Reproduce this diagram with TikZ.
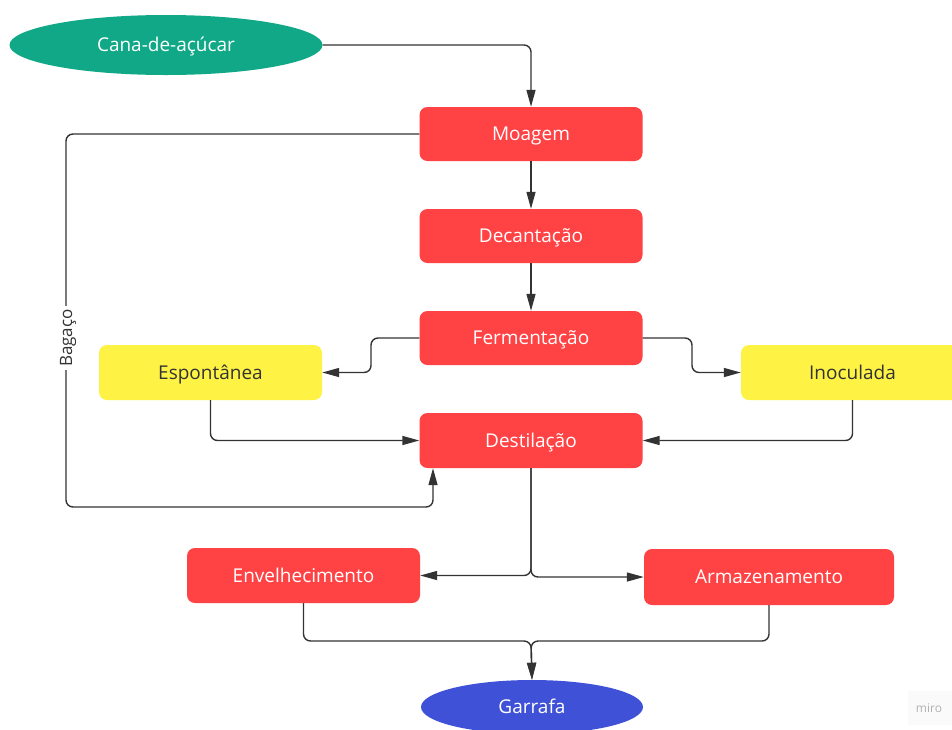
\documentclass[tikz,border=0pt]{standalone}
\usepackage{fontspec}
\setmainfont{Open Sans}
\usetikzlibrary{shapes.geometric,arrows.meta}
\definecolor{cteal}{RGB}{16,168,135}
\definecolor{cred}{RGB}{255,66,68}
\definecolor{cyel}{RGB}{254,242,68}
\definecolor{cblue}{RGB}{63,82,215}
\definecolor{cline}{RGB}{51,51,51}
\definecolor{ctext}{RGB}{51,51,51}
\tikzset{
  lbl/.style={font=\fontsize{19}{22}\selectfont, text height=13.8pt, text depth=0.2pt, inner sep=0pt},
  redbox/.style={lbl, rectangle, rounded corners=8pt, fill=cred, text=white, minimum width=223pt, minimum height=54pt},
  yelbox/.style={lbl, rectangle, rounded corners=8pt, fill=cyel, text=ctext, minimum width=223pt, minimum height=55pt},
  oval/.style={lbl, ellipse, text=white},
  conn/.style={draw=cline, line width=1.4pt, rounded corners=7pt},
  arr/.style={conn, -{Triangle[length=17pt,width=9pt]}},
}
\begin{document}
\begin{tikzpicture}[x=1pt,y=-1pt]
\useasboundingbox (0,0) rectangle (952,729);
\clip (0,0) rectangle (952,729);
\fill[white] (0,0) rectangle (952,729);
\node[oval, fill=cteal, minimum width=313pt, minimum height=60pt] (cana) at (166,45) {Cana-de-açúcar};
\node[redbox] (moa) at (531,134) {Moagem};
\node[redbox] (dec) at (531,236) {Decantação};
\node[redbox] (fer) at (531,338) {Fermentação};
\node[yelbox] (esp) at (210.5,372.5) {Espontânea};
\node[yelbox] (ino) at (852.5,372.5) {Inoculada};
\node[redbox, minimum height=55pt] (des) at (531,440.5) {Destilação};
\node[redbox, minimum width=233pt, minimum height=55pt] (env) at (303.5,575.5) {Envelhecimento};
\node[redbox, minimum width=250pt, minimum height=56pt] (arm) at (769,577) {Armazenamento};
\node[oval, fill=cblue, minimum width=222pt, minimum height=54pt] (gar) at (532,707) {Garrafa};
\node[fill=black!2, minimum width=44pt, minimum height=34pt, inner sep=0pt] (mirobg) at (930,708) {};
\node[text=black!30, font=\fontsize{12}{14}\selectfont, inner sep=0pt] (miro) at (929,708) {miro};
\coordinate (bj) at (531,641);
\coordinate (bagx) at (433,0);

\draw[arr] (cana.east) -| (moa.north);
\draw[arr] (moa) -- (dec);
\draw[arr] (dec) -- (fer);
\draw[arr] (moa.west) -- (66,134) -- (66,507) -- (433,507) -- (bagx |- des.south);
\node[fill=white, rotate=90, font=\fontsize{17}{20}\selectfont, text height=12.4pt, text depth=0.2pt, text=ctext, inner sep=3pt] (bag) at (66,338) {Bagaço};
\draw[arr] (fer.west) -- (371,338) -- (371,372.5) -- (esp.east);
\draw[arr] (fer.east) -- (692,338) -- (692,372.5) -- (ino.west);
\draw[arr] (esp.south) |- (des.west);
\draw[arr] (ino.south) |- (des.east);
\draw[arr] (des.south) |- (env.east);
\draw[arr] (des.south) |- (arm.west);
\draw[arr] (env.south) |- (bj) -- (gar.north);
\draw[arr] (arm.south) |- (bj) -- (gar.north);
\end{tikzpicture}
\end{document}
